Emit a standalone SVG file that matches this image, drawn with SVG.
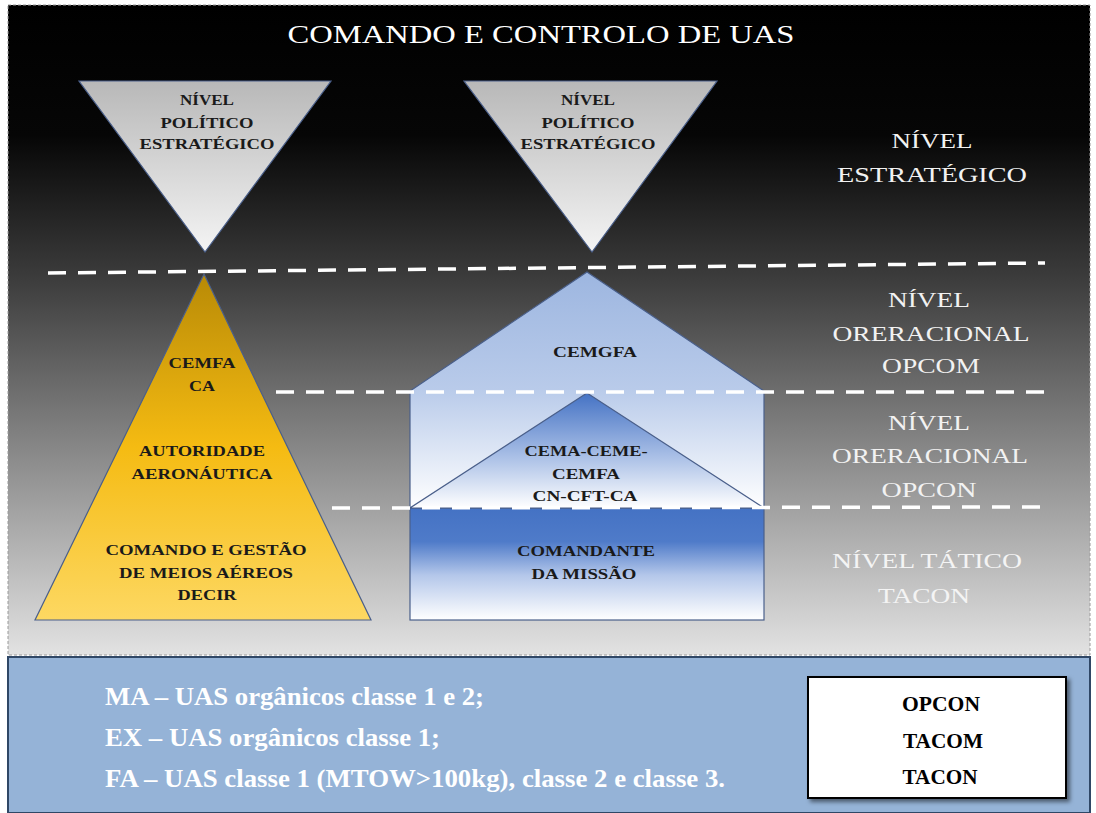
<svg xmlns="http://www.w3.org/2000/svg" width="1096" height="813" viewBox="0 0 1096 813">
<defs>
<linearGradient id="bg" x1="0" y1="0" x2="0" y2="1">
<stop offset="0" stop-color="#000"/>
<stop offset="0.2" stop-color="#060606"/>
<stop offset="0.42" stop-color="#3c3c3c"/>
<stop offset="0.7" stop-color="#8c8c8c"/>
<stop offset="1" stop-color="#e2e2e2"/>
</linearGradient>
<linearGradient id="inv" x1="0" y1="0" x2="0" y2="1">
<stop offset="0" stop-color="#b8b8b8"/>
<stop offset="1" stop-color="#f4f4f4"/>
</linearGradient>
<linearGradient id="gold" x1="0" y1="0" x2="0" y2="1">
<stop offset="0" stop-color="#b88a06"/>
<stop offset="0.5" stop-color="#f5bb12"/>
<stop offset="1" stop-color="#fdd862"/>
</linearGradient>
<linearGradient id="roof" gradientUnits="userSpaceOnUse" x1="0" y1="272" x2="0" y2="508">
<stop offset="0" stop-color="#9db6e0"/>
<stop offset="0.5" stop-color="#b9cbea"/>
<stop offset="1" stop-color="#ffffff"/>
</linearGradient>
<linearGradient id="inner" x1="0" y1="0" x2="0" y2="1">
<stop offset="0" stop-color="#4472c4"/>
<stop offset="0.55" stop-color="#a9bfe6"/>
<stop offset="1" stop-color="#ffffff"/>
</linearGradient>
<linearGradient id="base" x1="0" y1="0" x2="0" y2="1">
<stop offset="0" stop-color="#4472c4"/>
<stop offset="0.3" stop-color="#4f7bc9"/>
<stop offset="0.6" stop-color="#b4c7ea"/>
<stop offset="1" stop-color="#ffffff"/>
</linearGradient>
<filter id="sh" x="-10%" y="-10%" width="130%" height="130%">
<feDropShadow dx="3" dy="3" stdDeviation="2" flood-color="#000" flood-opacity="0.5"/>
</filter>
</defs>
<style>
text{font-family:"Liberation Serif","Times New Roman",serif;text-anchor:middle}
.lbl{font-size:22px;fill:#f2f2f2}
.in{font-size:14px;font-weight:bold;fill:#1a1a1a}
.leg{font-size:26px;font-weight:bold;fill:#fff;text-anchor:start}
.box{font-size:22px;font-weight:bold;fill:#000}
.shape{stroke:#4a5f8a;stroke-width:1.2}
.dash{stroke:#fff;stroke-width:3.5;stroke-dasharray:18 12;fill:none}
</style>
<rect x="0" y="0" width="1096" height="813" fill="#fff"/>
<g id="background">
<rect x="8" y="5" width="1082" height="650" fill="url(#bg)" stroke="#9a9a9a" stroke-width="1" stroke-dasharray="3 2"/>
</g>
<text x="541" y="43" font-size="26" fill="#fff" textLength="507" lengthAdjust="spacingAndGlyphs">COMANDO E CONTROLO DE UAS</text>

<g id="node-politico-1">
<polygon class="shape" points="79,81 331,81 205,252" fill="url(#inv)"/>
<text class="in" x="207" y="105" textLength="54" lengthAdjust="spacingAndGlyphs">NÍVEL</text>
<text class="in" x="207" y="128" textLength="93" lengthAdjust="spacingAndGlyphs">POLÍTICO</text>
<text class="in" x="207" y="149" textLength="135" lengthAdjust="spacingAndGlyphs">ESTRATÉGICO</text>
</g>
<g id="node-politico-2">
<polygon class="shape" points="464,81 717,81 592,252" fill="url(#inv)"/>
<text class="in" x="588" y="105" textLength="54" lengthAdjust="spacingAndGlyphs">NÍVEL</text>
<text class="in" x="588" y="128" textLength="93" lengthAdjust="spacingAndGlyphs">POLÍTICO</text>
<text class="in" x="588" y="149" textLength="135" lengthAdjust="spacingAndGlyphs">ESTRATÉGICO</text>
</g>

<g id="node-yellow-pyramid">
<polygon class="shape" points="204,274 371,620 35,620" fill="url(#gold)"/>
<text class="in" x="202" y="368" textLength="67" lengthAdjust="spacingAndGlyphs">CEMFA</text>
<text class="in" x="202" y="391" textLength="26" lengthAdjust="spacingAndGlyphs">CA</text>
<text class="in" x="202" y="456" textLength="126" lengthAdjust="spacingAndGlyphs">AUTORIDADE</text>
<text class="in" x="202" y="479" textLength="141" lengthAdjust="spacingAndGlyphs">AERONÁUTICA</text>
<text class="in" x="206" y="555" textLength="201" lengthAdjust="spacingAndGlyphs">COMANDO E GESTÃO</text>
<text class="in" x="206" y="578" textLength="174" lengthAdjust="spacingAndGlyphs">DE MEIOS AÉREOS</text>
<text class="in" x="207" y="600" textLength="59" lengthAdjust="spacingAndGlyphs">DECIR</text>
</g>

<g id="node-house">
<polygon class="shape" points="587,272 764,391 764,508 410,508 410,391" fill="url(#roof)"/>
<rect class="shape" x="410" y="508" width="354" height="112" fill="url(#base)"/>
<text class="in" x="595" y="357" textLength="84" lengthAdjust="spacingAndGlyphs">CEMGFA</text>
</g>
<g id="node-inner-triangle">
<polygon class="shape" points="587,393 764,508 410,508" fill="url(#inner)"/>
<text class="in" x="586" y="456" textLength="123" lengthAdjust="spacingAndGlyphs">CEMA-CEME-</text>
<text class="in" x="586" y="479" textLength="68" lengthAdjust="spacingAndGlyphs">CEMFA</text>
<text class="in" x="585" y="501" textLength="105" lengthAdjust="spacingAndGlyphs">CN-CFT-CA</text>
</g>
<g id="node-comandante">
<text class="in" x="586" y="556" textLength="138" lengthAdjust="spacingAndGlyphs">COMANDANTE</text>
<text class="in" x="584" y="579" textLength="105" lengthAdjust="spacingAndGlyphs">DA MISSÃO</text>
</g>

<g id="connectors">
<line class="dash" x1="48" y1="273" x2="1045" y2="263"/>
<line class="dash" x1="276" y1="392" x2="1045" y2="392"/>
<line class="dash" x1="332" y1="508" x2="1045" y2="507"/>
</g>

<g id="level-labels">
<text class="lbl" x="932" y="148" textLength="81" lengthAdjust="spacingAndGlyphs">NÍVEL</text>
<text class="lbl" x="932" y="182" textLength="190" lengthAdjust="spacingAndGlyphs">ESTRATÉGICO</text>
<text class="lbl" x="929" y="307" textLength="82" lengthAdjust="spacingAndGlyphs">NÍVEL</text>
<text class="lbl" x="931" y="341" textLength="197" lengthAdjust="spacingAndGlyphs">ORERACIONAL</text>
<text class="lbl" x="931" y="373" textLength="98" lengthAdjust="spacingAndGlyphs">OPCOM</text>
<text class="lbl" x="929" y="430" textLength="82" lengthAdjust="spacingAndGlyphs">NÍVEL</text>
<text class="lbl" x="930" y="463" textLength="196" lengthAdjust="spacingAndGlyphs">ORERACIONAL</text>
<text class="lbl" x="929" y="497" textLength="95" lengthAdjust="spacingAndGlyphs">OPCON</text>
<text class="lbl" x="927" y="568" textLength="190" lengthAdjust="spacingAndGlyphs" style="fill:#f4f4f4">NÍVEL TÁTICO</text>
<text class="lbl" x="924" y="603" textLength="92" lengthAdjust="spacingAndGlyphs" style="fill:#f4f4f4">TACON</text>
</g>

<g id="legend">
<rect x="8" y="657" width="1082" height="156" fill="#95b3d7" stroke="#2f4766" stroke-width="2"/>
<text class="leg" x="105" y="705" textLength="379" lengthAdjust="spacingAndGlyphs">MA – UAS orgânicos classe 1 e 2;</text>
<text class="leg" x="105" y="746" textLength="335" lengthAdjust="spacingAndGlyphs">EX – UAS orgânicos classe 1;</text>
<text class="leg" x="105" y="787" textLength="620" lengthAdjust="spacingAndGlyphs">FA – UAS classe 1 (MTOW&gt;100kg), classe 2 e classe 3.</text>
</g>
<g id="legend-box">
<rect x="808" y="677" width="258" height="121" fill="#fff" stroke="#000" stroke-width="2" filter="url(#sh)"/>
<text class="box" x="941" y="711" textLength="78" lengthAdjust="spacingAndGlyphs">OPCON</text>
<text class="box" x="943" y="748" textLength="80" lengthAdjust="spacingAndGlyphs">TACOM</text>
<text class="box" x="940" y="784" textLength="75" lengthAdjust="spacingAndGlyphs">TACON</text>
</g>
</svg>
